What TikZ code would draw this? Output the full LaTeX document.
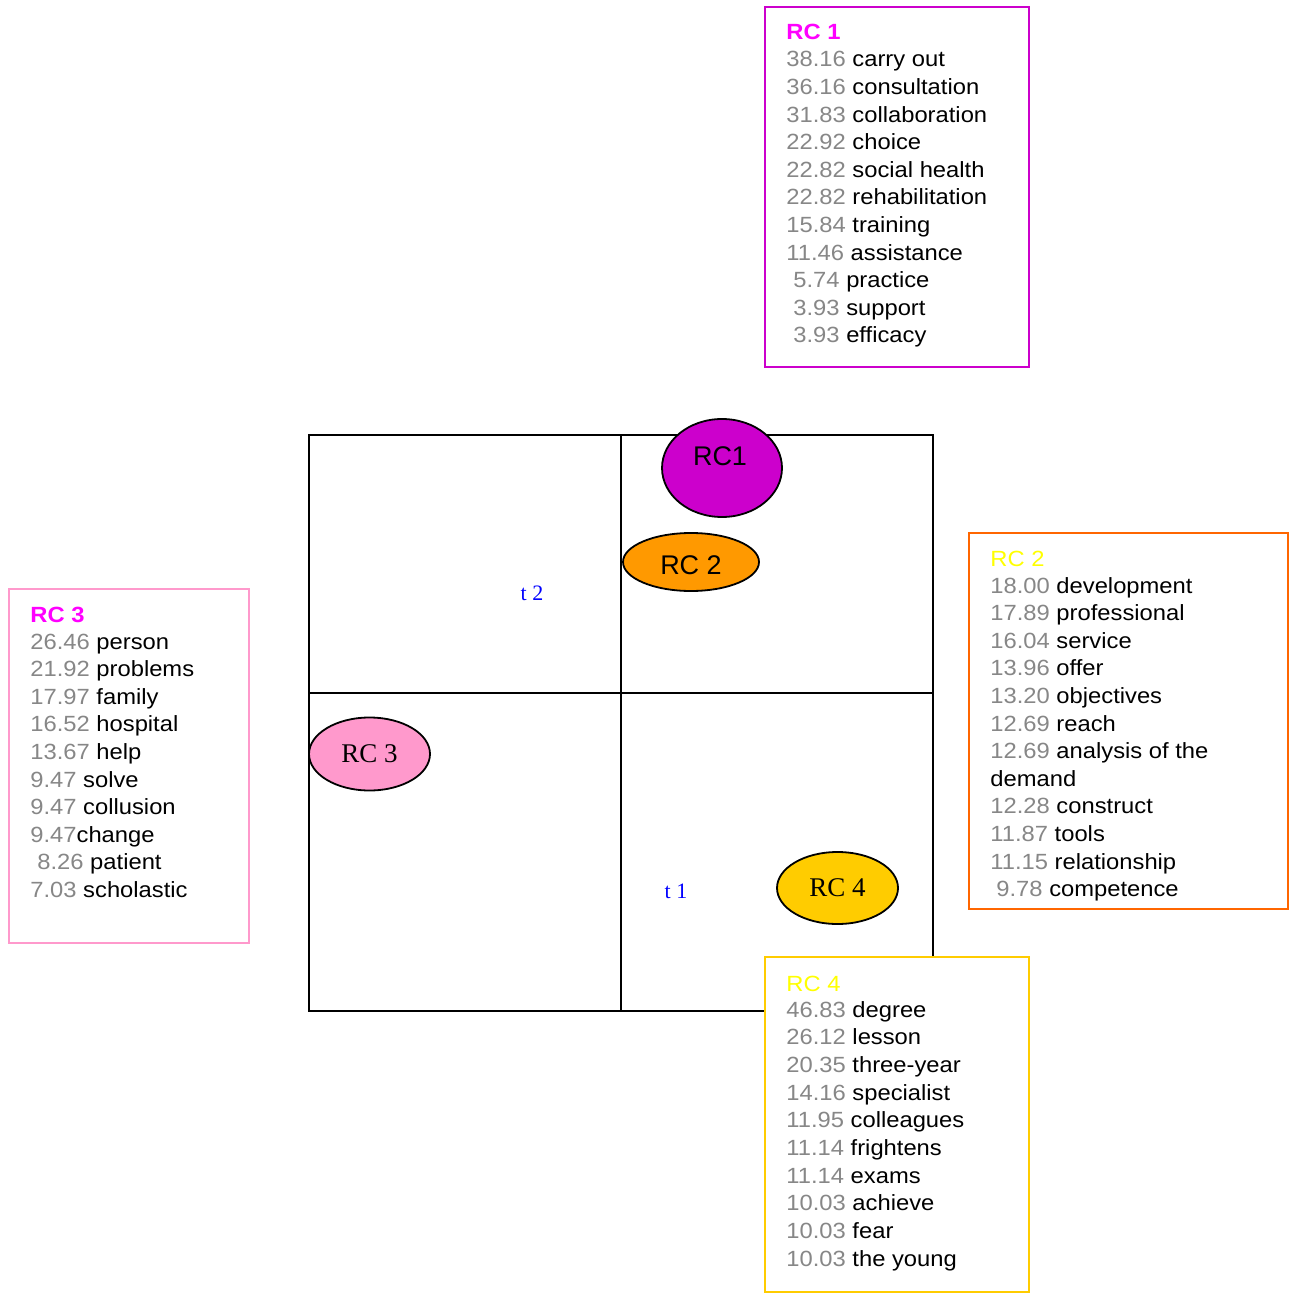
\documentclass[tikz,border=0pt]{standalone}
\usepackage{fontspec}
\usetikzlibrary{shapes.geometric,fit}
\newfontfamily\boxfont{Liberation Sans}[FakeStretch=1.08]
\newfontfamily\ellsans{Liberation Sans}
\newfontfamily\ellserif{Liberation Serif}
\definecolor{numgray}{HTML}{878787}
\definecolor{hdmag}{HTML}{FF00FF}
\definecolor{hdyel}{HTML}{FFFF00}
\definecolor{rcAfill}{HTML}{CC00CC}
\definecolor{rcBfill}{HTML}{FF9900}
\definecolor{rcCfill}{HTML}{FF99CC}
\definecolor{rcDfill}{HTML}{FFCC00}
\definecolor{rcAline}{HTML}{CC00CC}
\definecolor{rcBline}{HTML}{FF6600}
\definecolor{rcCline}{HTML}{FF99CC}
\definecolor{rcDline}{HTML}{FFCC00}
\definecolor{tblue}{HTML}{0000FF}
\newcommand\wordline[5]{\node[wtxt] (#1) at (#2,#3) {{\color{numgray}#4}#5};}
\begin{document}
\begin{tikzpicture}[x=0.5pt,y=-0.5pt,
  wtxt/.style={anchor=base west, inner sep=0pt, font=\boxfont\fontsize{11pt}{12pt}\selectfont},
  hdr/.style={anchor=base west, inner sep=0pt, font=\boxfont\fontsize{11pt}{12pt}\selectfont},
  panel/.style={rectangle, line width=1pt, fill=white, inner sep=0pt},
  ell/.style={ellipse, draw=black, line width=0.9pt, inner sep=0pt},
  elsans/.style={font=\ellsans\fontsize{13.5pt}{15pt}\selectfont},
  elserif/.style={font=\ellserif\fontsize{13.5pt}{15pt}\selectfont},
  tlab/.style={anchor=base, inner sep=0pt, text=tblue, font=\ellserif\fontsize{11pt}{13pt}\selectfont},
  gridline/.style={line width=1pt, draw=black}]
\useasboundingbox (0,0) rectangle (1293,1293);
% quadrant grid
\draw[gridline] (309,435) rectangle (933,1011);
\draw[gridline] (621,435) -- (621,1011);
\draw[gridline] (309,693) -- (933,693);
% axis labels
\node[tlab] (t2) at (532,600) {t 2};
\node[tlab] (t1) at (676,898) {t 1};
% ellipses
\node[ell, fill=rcAfill, minimum width=60pt, minimum height=49pt] (e1) at (722,468) {};
\node[anchor=base, inner sep=0pt, elsans] (e1lab) at (720,466) {RC1};
\node[ell, elsans, fill=rcBfill, minimum width=68pt, minimum height=29pt, text height=12pt, text depth=0pt] (e2) at (691,562) {RC 2};
\node[ell, elserif, fill=rcCfill, minimum width=60.5pt, minimum height=36.5pt] (e3) at (369.5,754) {RC 3};
\node[ell, elserif, fill=rcDfill, minimum width=60.5pt, minimum height=36pt] (e4) at (837.5,888) {RC 4};
% panels
\coordinate (b1a) at (765,7);   \coordinate (b1b) at (1029,367);
\coordinate (b3a) at (9,589);   \coordinate (b3b) at (249,943);
\coordinate (b2a) at (969,533); \coordinate (b2b) at (1288,909);
\coordinate (b4a) at (765,957); \coordinate (b4b) at (1029,1292);
\node[panel, draw=rcAline, fit=(b1a)(b1b)] (box1) {};
\node[panel, draw=rcCline, fit=(b3a)(b3b)] (box3) {};
\node[panel, draw=rcBline, fit=(b2a)(b2b)] (box2) {};
\node[panel, draw=rcDline, fit=(b4a)(b4b)] (box4) {};
% RC 1 panel
\node[hdr, text=hdmag, font=\boxfont\bfseries\fontsize{11pt}{12pt}\selectfont] (h1) at (786,40) {RC 1};
\wordline{a1}{786}{67}{38.16}{ carry out}
\wordline{a2}{786}{94.6}{36.16}{ consultation}
\wordline{a3}{786}{122.2}{31.83}{ collaboration}
\wordline{a4}{786}{149.8}{22.92}{ choice}
\wordline{a5}{786}{177.4}{22.82}{ social health}
\wordline{a6}{786}{205}{22.82}{ rehabilitation}
\wordline{a7}{786}{232.6}{15.84}{ training}
\wordline{a8}{786}{260.2}{11.46}{ assistance}
\wordline{a9}{793}{287.8}{5.74}{ practice}
\wordline{a10}{793}{315.4}{3.93}{ support}
\wordline{a11}{793}{343}{3.93}{ efficacy}
% RC 3 panel
\node[hdr, text=hdmag, font=\boxfont\bfseries\fontsize{11pt}{12pt}\selectfont] (h3) at (30,622) {RC 3};
\wordline{c1}{30}{649}{26.46}{ person}
\wordline{c2}{30}{676.6}{21.92}{ problems}
\wordline{c3}{30}{704.2}{17.97}{ family}
\wordline{c4}{30}{731.8}{16.52}{ hospital}
\wordline{c5}{30}{759.4}{13.67}{ help}
\wordline{c6}{30}{787}{9.47}{ solve}
\wordline{c7}{30}{814.6}{9.47}{ collusion}
\wordline{c8}{30}{842.2}{9.47}{change}
\wordline{c9}{37}{869.8}{8.26}{ patient}
\wordline{c10}{30}{897.4}{7.03}{ scholastic}
% RC 2 panel
\node[hdr, text=hdyel] (h2) at (990,566) {RC 2};
\wordline{b1}{990}{593}{18.00}{ development}
\wordline{b2}{990}{620.6}{17.89}{ professional}
\wordline{b3}{990}{648.2}{16.04}{ service}
\wordline{b4}{990}{675.8}{13.96}{ offer}
\wordline{b5}{990}{703.4}{13.20}{ objectives}
\wordline{b6}{990}{731}{12.69}{ reach}
\wordline{b7}{990}{758.6}{12.69}{ analysis of the}
\wordline{b8}{990}{786.2}{}{demand}
\wordline{b9}{990}{813.8}{12.28}{ construct}
\wordline{b10}{990}{841.4}{11.87}{ tools}
\wordline{b11}{990}{869}{11.15}{ relationship}
\wordline{b12}{996}{896.6}{9.78}{ competence}
% RC 4 panel
\node[hdr, text=hdyel] (h4) at (786,991) {RC 4};
\wordline{d1}{786}{1017}{46.83}{ degree}
\wordline{d2}{786}{1044.7}{26.12}{ lesson}
\wordline{d3}{786}{1072.4}{20.35}{ three-year}
\wordline{d4}{786}{1100.1}{14.16}{ specialist}
\wordline{d5}{786}{1127.8}{11.95}{ colleagues}
\wordline{d6}{786}{1155.5}{11.14}{ frightens}
\wordline{d7}{786}{1183.2}{11.14}{ exams}
\wordline{d8}{786}{1210.9}{10.03}{ achieve}
\wordline{d9}{786}{1238.6}{10.03}{ fear}
\wordline{d10}{786}{1266.3}{10.03}{ the young}
\end{tikzpicture}
\end{document}
